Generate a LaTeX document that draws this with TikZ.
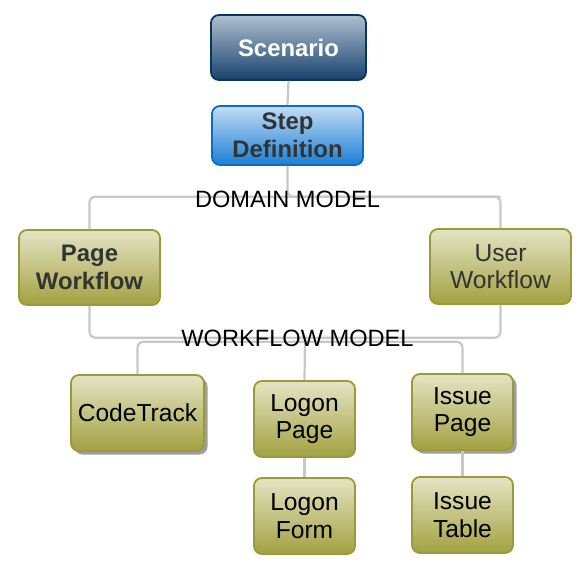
\documentclass[tikz,border=0pt]{standalone}
\usepackage{fontspec}
\setmainfont{Liberation Sans}
\usetikzlibrary{shadows}
\definecolor{olivetop}{HTML}{E4E4C4}
\definecolor{olivebot}{HTML}{A3A141}
\definecolor{oliveline}{HTML}{9B9A38}
\definecolor{scentop}{HTML}{AFC0D0}
\definecolor{scenbot}{HTML}{17416C}
\definecolor{scenline}{HTML}{0A3560}
\definecolor{steptop}{HTML}{C2DDF4}
\definecolor{stepbot}{HTML}{1A7ED5}
\definecolor{stepline}{HTML}{0B6BC5}
\definecolor{connc}{HTML}{C8C8C8}
\definecolor{darktext}{HTML}{333333}
\tikzset{
  box/.style={rounded corners=8pt, line width=1.8pt, align=center, inner sep=0pt,
    font=\fontsize{24.6}{27.5}\selectfont},
  boldtext/.style={font=\fontsize{23.9}{27.5}\selectfont\bfseries},
  olivebox/.style={box, draw=oliveline, top color=olivetop, bottom color=olivebot},
  shadowed/.style={drop shadow={shadow xshift=3.5pt, shadow yshift=-3.5pt, fill=black!38, opacity=1}},
  conn/.style={draw=connc, line width=2.2pt, rounded corners=6pt},
  lbl/.style={font=\fontsize{23.6}{26}\selectfont, inner sep=0pt, anchor=base},
}
\begin{document}
\begin{tikzpicture}[x=1pt,y=-1pt]
\useasboundingbox (0,0) rectangle (586,578);
% bus junctions
\coordinate (dmj) at (288,196.7);
\coordinate (wmj) at (305,337.7);
\coordinate (wmk) at (305,341.7);
% nodes
\node[box, boldtext, draw=scenline, top color=scentop, bottom color=scenbot, text=white,
  minimum width=155pt, minimum height=65pt]
  (scen) at (288.5,47.5) {Scenario};
\node[box, boldtext, draw=stepline, top color=steptop, bottom color=stepbot, text=darktext,
  minimum width=151pt, minimum height=59pt]
  (step) at (287.5,135.5) {Step\\Definition};
\node[olivebox, boldtext, text=darktext, minimum width=141pt, minimum height=75pt]
  (pw) at (89.5,267.5) {Page\\Workflow};
\node[olivebox, text=darktext, minimum width=141pt, minimum height=75pt]
  (uw) at (500.5,266.5) {User\\Workflow};
\node[olivebox, shadowed, minimum width=133pt, minimum height=76pt]
  (ct) at (137.5,413) {CodeTrack};
\node[olivebox, minimum width=101pt, minimum height=76pt]
  (lp) at (304.5,419) {Logon\\Page};
\node[olivebox, minimum width=101pt, minimum height=76pt]
  (lf) at (304.5,516) {Logon\\Form};
\node[olivebox, shadowed, minimum width=101pt, minimum height=76pt]
  (ip) at (462.5,412) {Issue\\Page};
\node[olivebox, minimum width=101pt, minimum height=76pt]
  (it) at (462.5,515) {Issue\\Table};
% connectors
\draw[conn] (scen.south) -- (step.north);
\draw[conn] (pw.north) |- (dmj) -| (uw.north);
\draw[conn] (step.south) |- (uw.north |- dmj);
\draw[conn] (pw.south) |- (wmj) -| (uw.south);
\draw[conn] (wmj) -- (lp.north);
\draw[conn] (ct.north) |- (wmk) -| (ip.north);
\draw[conn] (lp.south) -- (lf.north);
\draw[conn] (ip.south) -- (it.north);
% labels
\node[lbl] (dml) at (287.5,207.7) {DOMAIN MODEL};
\node[lbl] (wml) at (297.5,346.7) {WORKFLOW MODEL};
\end{tikzpicture}
\end{document}
